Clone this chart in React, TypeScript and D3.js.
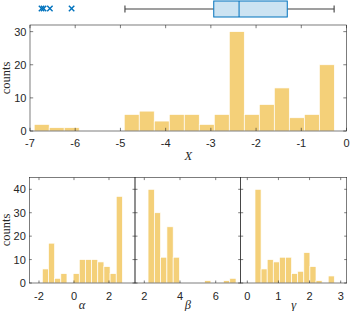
import React from "react";
import * as d3 from "d3";

// ---------- data ----------
const xBinStart = -6.907;
const xBinWidth = 0.3319;
const xCounts = [2, 1, 1, 0, 0, 0, 5, 6, 3, 5, 5, 2, 5, 30, 5, 8, 13, 4, 5, 20];
const xTicks = [-7, -6, -5, -4, -3, -2, -1, 0];
const xCountTicks = [0, 10, 20, 30];

// boxplot summary of X
const boxWhiskerLow = -4.9;
const boxQ1 = -2.936;
const boxMedian = -2.376;
const boxQ3 = -1.31;
const boxWhiskerHigh = -0.274;
const boxOutliers = [-6.745, -6.7, -6.56, -6.08];

const alphaBinStart = -1.81;
const alphaBinWidth = 0.352;
const alphaCounts = [6, 17, 2, 4, 0, 4, 10, 10, 10, 9, 7, 4, 37];
const alphaTicks = [-2, 0, 2];

const betaBinStart = 2.21;
const betaBinWidth = 0.352;
const betaCounts = [40, 30, 11, 24, 11, 0, 0, 0, 0, 1, 0, 0, 1, 2];
const betaTicks = [2, 4, 6];

const gammaBinStart = 0.247;
const gammaBinWidth = 0.196;
const gammaCounts = [40, 6, 10, 9, 11, 11, 4, 5, 13, 7, 1, 0, 3];
const gammaTicks = [0, 1, 2, 3];

const paramCountTicks = [0, 10, 20, 30, 40];

// ---------- style ----------
const AX = "#262626";
const BAR = "rgb(244,208,121)";
const BLUE = "#0072BD";
const BOXFILL = "rgb(204,227,242)";
const SANS = "'Liberation Sans', Arial, sans-serif";
const SERIF = "'Liberation Serif', 'Times New Roman', serif";

type PanelProps = {
  x0: number; x1: number; y0: number; y1: number;
  xDomain: [number, number]; yDomain: [number, number];
  binStart: number; binWidth: number; counts: number[];
  xTicks: number[]; yTicks: number[]; showYLabels: boolean;
  xLabelY: number; tickLen: number;
};

function Panel(p: PanelProps) {
  const x = d3.scaleLinear().domain(p.xDomain).range([p.x0, p.x1]);
  const y = d3.scaleLinear().domain(p.yDomain).range([p.y1, p.y0]);
  const bins = p.counts.map((c, i) => ({
    a: p.binStart + i * p.binWidth,
    b: p.binStart + (i + 1) * p.binWidth,
    c,
  }));
  const tl = p.tickLen;
  return (
    <g>
      {bins.filter((d) => d.c > 0).map((d, i) => (
        <rect key={i} x={x(d.a)} y={y(d.c)} width={x(d.b) - x(d.a)} height={y(0) - y(d.c)}
          fill={BAR} stroke="#ffffff" strokeWidth={0.7} />
      ))}
      {p.xTicks.map((t) => (
        <g key={"xt" + t}>
          <line x1={x(t)} x2={x(t)} y1={p.y1} y2={p.y1 - tl} stroke={AX} strokeWidth={0.6} />
          <line x1={x(t)} x2={x(t)} y1={p.y0} y2={p.y0 + tl} stroke={AX} strokeWidth={0.6} />
          <text x={x(t)} y={p.xLabelY} textAnchor="middle" fontFamily={SANS} fontSize={11} fill={AX}>
            {String(t)}
          </text>
        </g>
      ))}
      {p.yTicks.map((t) => (
        <g key={"yt" + t}>
          <line x1={p.x0} x2={p.x0 + tl} y1={y(t)} y2={y(t)} stroke={AX} strokeWidth={0.6} />
          <line x1={p.x1} x2={p.x1 - tl} y1={y(t)} y2={y(t)} stroke={AX} strokeWidth={0.6} />
          {p.showYLabels && (
            <text x={p.x0 - 3.5} y={y(t)} dy="0.36em" textAnchor="end" fontFamily={SANS} fontSize={11} fill={AX}>
              {String(t)}
            </text>
          )}
        </g>
      ))}
      <rect x={p.x0} y={p.y0} width={p.x1 - p.x0} height={p.y1 - p.y0} fill="none" stroke={AX} strokeWidth={0.6} />
    </g>
  );
}

export default function App() {
  const tx0 = 30, tx1 = 346.5, ty0 = 25, ty1 = 131;
  const xs = d3.scaleLinear().domain([-7, 0]).range([tx0, tx1]);
  const boxTop = 1, boxBot = 17, boxMid = 9;
  const capH = 3.5;
  const m = 2.7;

  const by0 = 177.6, by1 = 283;
  return (
    <svg width={350} height={311} style={{ position: "absolute", left: 0, top: 0 }}>
      <rect x={0} y={0} width={350} height={311} fill="#fff" />
      <g>
        <line x1={xs(boxWhiskerLow)} x2={xs(boxQ1)} y1={boxMid} y2={boxMid} stroke="#404040" strokeWidth={1.1} />
        <line x1={xs(boxQ3)} x2={xs(boxWhiskerHigh)} y1={boxMid} y2={boxMid} stroke="#404040" strokeWidth={1.1} />
        <line x1={xs(boxWhiskerLow)} x2={xs(boxWhiskerLow)} y1={boxMid - capH} y2={boxMid + capH} stroke="#404040" strokeWidth={1.1} />
        <line x1={xs(boxWhiskerHigh)} x2={xs(boxWhiskerHigh)} y1={boxMid - capH} y2={boxMid + capH} stroke="#404040" strokeWidth={1.1} />
        <rect x={xs(boxQ1)} y={boxTop} width={xs(boxQ3) - xs(boxQ1)} height={boxBot - boxTop} fill={BOXFILL} stroke={BLUE} strokeWidth={1} />
        <line x1={xs(boxMedian)} x2={xs(boxMedian)} y1={boxTop} y2={boxBot} stroke={BLUE} strokeWidth={1} />
        {boxOutliers.map((v, i) => (
          <g key={i} stroke={BLUE} strokeWidth={1.4}>
            <line x1={xs(v) - m} x2={xs(v) + m} y1={8.5 - m} y2={8.5 + m} />
            <line x1={xs(v) - m} x2={xs(v) + m} y1={8.5 + m} y2={8.5 - m} />
          </g>
        ))}
      </g>
      <Panel x0={tx0} x1={tx1} y0={ty0} y1={ty1} xDomain={[-7, 0]} yDomain={[0, 32]}
        binStart={xBinStart} binWidth={xBinWidth} counts={xCounts}
        xTicks={xTicks} yTicks={xCountTicks} showYLabels={true} xLabelY={146.5} tickLen={3.2} />
      <text x={(tx0 + tx1) / 2} y={159.5} textAnchor="middle" fontFamily={SERIF} fontStyle="italic" fontSize={12.5} fill={AX}>X</text>
      <text transform="translate(10,78) rotate(-90)" textAnchor="middle" fontFamily={SERIF} fontSize={12.5} fill={AX}>counts</text>

      <Panel x0={29.3} x1={135} y0={by0} y1={by1} xDomain={[-2.554, 3.486]} yDomain={[0, 45]}
        binStart={alphaBinStart} binWidth={alphaBinWidth} counts={alphaCounts}
        xTicks={alphaTicks} yTicks={paramCountTicks} showYLabels={true} xLabelY={300} tickLen={2.5} />
      <Panel x0={135} x1={240.7} y0={by0} y1={by1} xDomain={[1.479, 7.4]} yDomain={[0, 45]}
        binStart={betaBinStart} binWidth={betaBinWidth} counts={betaCounts}
        xTicks={betaTicks} yTicks={paramCountTicks} showYLabels={false} xLabelY={300} tickLen={2.5} />
      <Panel x0={240.7} x1={346.7} y0={by0} y1={by1} xDomain={[-0.212, 3.193]} yDomain={[0, 45]}
        binStart={gammaBinStart} binWidth={gammaBinWidth} counts={gammaCounts}
        xTicks={gammaTicks} yTicks={paramCountTicks} showYLabels={false} xLabelY={300} tickLen={2.5} />
      <text transform="translate(10,230) rotate(-90)" textAnchor="middle" fontFamily={SERIF} fontSize={12.5} fill={AX}>counts</text>
      <text x={82.1} y={308.5} textAnchor="middle" fontFamily={SERIF} fontStyle="italic" fontSize={12.5} fill={AX}>α</text>
      <text x={187.8} y={308.5} textAnchor="middle" fontFamily={SERIF} fontStyle="italic" fontSize={12.5} fill={AX}>β</text>
      <text x={293.7} y={308.5} textAnchor="middle" fontFamily={SERIF} fontStyle="italic" fontSize={12.5} fill={AX}>γ</text>
    </svg>
  );
}
